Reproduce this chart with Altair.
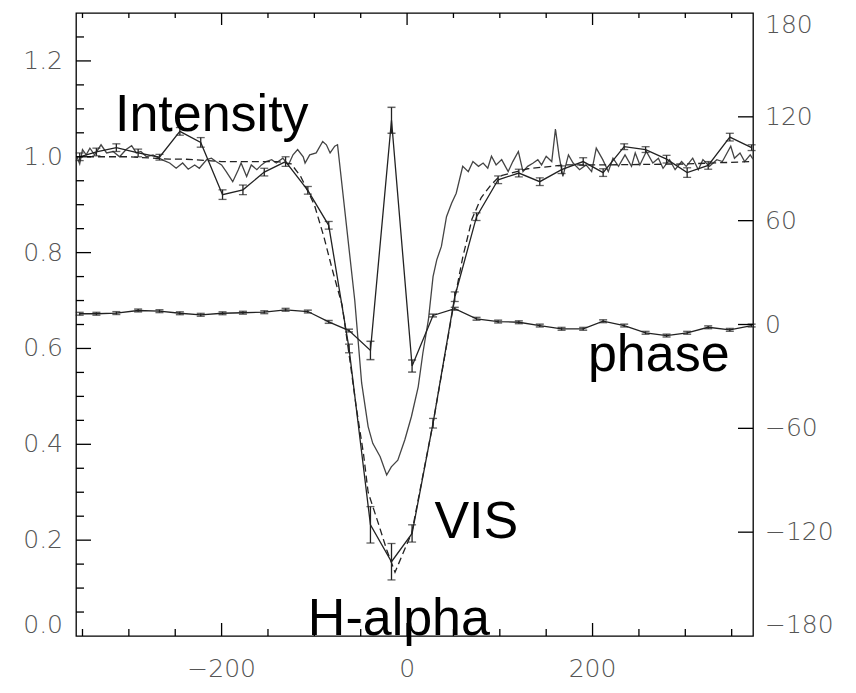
import altair as alt
import pandas as pd

# ---------------- data ----------------
spec_x = [-356, -353, -350, -346, -342, -337, -330, -324, -317, -310, -303, -297, -292, -287, -281,
          -274, -267, -262, -256, -249, -242, -236, -229, -224, -216, -211, -206, -200, -195, -188,
          -182, -179, -173, -168, -162, -157, -152, -146, -141, -134, -128, -123, -118, -112, -110,
          -105, -98, -91, -87, -83, -78, -75, -56.4, -49, -42, -37, -29, -22, -17, -10, -2.5, 4.7,
          12, 17, 23, 28, 32, 37, 42.5, 48, 53, 60, 66, 71, 77, 82, 87, 91, 96, 102, 109, 114, 120,
          125, 130, 136, 141, 145, 150, 156, 160, 164, 168, 174, 179, 186, 193, 199, 204, 211, 217,
          222, 228, 235, 242, 246, 251, 258, 265, 271, 276, 283, 289, 296, 301, 308, 314, 319, 326,
          334, 340, 345, 349, 353, 359, 364, 370, 373]
spec_y = [1.000, 0.985, 1.015, 1.004, 1.018, 1.004, 1.025, 1.008, 1.011, 1.000, 1.015, 1.023, 1.008,
          1.011, 1.000, 1.004, 0.997, 0.992, 0.987, 0.976, 0.987, 0.974, 0.983, 0.976, 0.994, 0.997,
          0.990, 0.983, 0.969, 0.948, 0.973, 0.987, 0.959, 0.983, 0.973, 0.983, 0.990, 0.994, 0.987,
          0.997, 0.983, 1.004, 1.015, 1.000, 0.987, 1.004, 1.008, 1.032, 1.025, 1.008, 1.022, 1.025,
          0.700, 0.528, 0.437, 0.402, 0.374, 0.336, 0.353, 0.367, 0.409, 0.458, 0.520, 0.590, 0.660,
          0.750, 0.785, 0.813, 0.875, 0.903, 0.924, 0.980, 0.969, 0.990, 0.980, 0.987, 0.976, 1.001,
          0.983, 0.994, 0.969, 0.990, 1.011, 0.969, 0.980, 0.987, 0.994, 0.983, 1.001, 0.990, 1.058,
          1.001, 0.959, 1.004, 0.987, 0.973, 0.983, 0.969, 1.018, 0.994, 0.969, 0.997, 0.980, 1.004,
          0.980, 1.008, 0.983, 1.011, 0.987, 0.997, 0.976, 0.994, 0.973, 0.990, 0.980, 0.997, 0.973,
          0.994, 0.980, 0.994, 0.990, 1.008, 1.022, 0.997, 1.008, 0.990, 1.004, 0.995]

vis_x = [-353, -335, -313.5, -290, -267, -245, -222.5, -199, -177, -154, -131, -107, -84.5, -62.6,
         -39.5, -16.8, 5.4, 28, 51.4, 74.9, 98.2, 120.5, 143.1, 166.6, 189.9, 211.4, 234.1, 257.2,
         279.8, 302, 324.7, 348, 371.5]
vis_y = [1.000, 1.010, 1.019, 1.008, 0.999, 1.053, 1.030, 0.921, 0.931, 0.968, 0.990, 0.930, 0.857,
         0.600, 0.232, 0.155, 0.214, 0.444, 0.708, 0.875, 0.952, 0.966, 0.948, 0.973, 0.990, 0.967,
         1.021, 1.015, 0.995, 0.967, 0.982, 1.041, 1.019]
vis_err = [0.008, 0.008, 0.008, 0.008, 0.006, 0.008, 0.010, 0.010, 0.010, 0.008, 0.010, 0.008, 0.008,
           0.009, 0.038, 0.038, 0.018, 0.010, 0.010, 0.008, 0.008, 0.008, 0.008, 0.008, 0.008, 0.008,
           0.006, 0.006, 0.008, 0.010, 0.008, 0.008, 0.006]

dash_x = [-357, -300, -256, -240, -200, -175, -140, -125, -115, -100, -90, -80, -70, -62, -55, -47,
          -42, -31, -22, -13, -5, 5, 28, 51, 60, 70, 80, 90, 100, 130, 170, 210, 300, 373]
dash_y = [1.0, 1.0, 0.995, 0.995, 0.99, 0.99, 0.99, 0.985, 0.96, 0.90, 0.835, 0.76, 0.69, 0.58, 0.48,
          0.38, 0.30, 0.235, 0.18, 0.133, 0.17, 0.215, 0.444, 0.70, 0.79, 0.87, 0.915, 0.94, 0.96,
          0.975, 0.983, 0.983, 0.985, 0.99]

phase_x = vis_x
phase_deg = [6.2, 6.2, 6.6, 8.1, 7.7, 6.5, 5.6, 6.5, 6.8, 7.1, 8.5, 7.5, 1.5, -3.5, -15, 118, -24,
             5.2, 9.1, 3.3, 1.7, 1.3, -0.6, -2.5, -2.5, 1.9, -0.6, -4.8, -6.4, -4.8, -1.6, -3.1, -0.6]
phase_err = [0.8] * 14 + [5.3, 7.5, 3.5] + [0.8] * 16

label_text = ["Intensity", "phase", "VIS", "H-alpha"]
label_x = [-315, 195, 29.5, -107]
label_y = [1.053, 0.552, 0.204, 0.002]

x_major = [-200, 0, 200]
x_minor = [-350, -300, -250, -150, -100, -50, 50, 100, 150, 250, 300, 350]
yl_major = [0.2, 0.4, 0.6, 0.8, 1.0, 1.2]
yl_minor = [0.05, 0.1, 0.15, 0.25, 0.3, 0.35, 0.45, 0.5, 0.55, 0.65, 0.7, 0.75, 0.85, 0.9, 0.95,
            1.05, 1.1, 1.15, 1.25]
yl_labels = [0.0, 0.2, 0.4, 0.6, 0.8, 1.0, 1.2]
yr_major = [-120, -60, 0, 60, 120]
yr_labels = [-180, -120, -60, 0, 60, 120, 180]

# ---------------- scales / layout ----------------
W, H = 677, 623
X0, X1 = -357, 373
YL0, YL1 = 0.0, 1.3
YR0, YR1 = -180, 180
LINE = "#222222"
xs = alt.Scale(domain=[X0, X1], nice=False, zero=False)
yl = alt.Scale(domain=[YL0, YL1], nice=False, zero=False)
yr = alt.Scale(domain=[YR0, YR1], nice=False, zero=False)

# ---------------- tables ----------------
spec = pd.DataFrame({"x": spec_x, "y": spec_y})
vis = pd.DataFrame({"x": vis_x, "y": vis_y, "e": vis_err})
vis["lo"] = vis["y"] - vis["e"]
vis["hi"] = vis["y"] + vis["e"]
dash = pd.DataFrame({"x": dash_x, "y": dash_y})
ph = pd.DataFrame({"x": phase_x, "y": phase_deg, "e": phase_err})
ph["lo"] = ph["y"] - ph["e"]
ph["hi"] = ph["y"] + ph["e"]
labs = pd.DataFrame({"t": label_text, "x": label_x, "y": label_y})


def XQ(field="x"):
    return alt.X(f"{field}:Q", scale=xs, axis=None)


def YL(field="y"):
    return alt.Y(f"{field}:Q", scale=yl, axis=None)


def YR(field="y"):
    return alt.Y(f"{field}:Q", scale=yr, axis=None)


spec_line = alt.Chart(spec).mark_line(color="#444444", strokeWidth=1.3).encode(x=XQ(), y=YL())
dash_line = alt.Chart(dash).mark_line(color=LINE, strokeWidth=1.3, strokeDash=[7, 4]).encode(
    x=XQ(), y=YL())
vis_line = alt.Chart(vis).mark_line(color=LINE, strokeWidth=1.3).encode(x=XQ(), y=YL())
vis_bar = alt.Chart(vis).mark_rule(color=LINE, strokeWidth=1.3).encode(x=XQ(), y=YL("lo"), y2="hi:Q")
vis_cap_lo = alt.Chart(vis).mark_tick(color=LINE, orient="horizontal", size=8, thickness=1.3).encode(
    x=XQ(), y=YL("lo"))
vis_cap_hi = alt.Chart(vis).mark_tick(color=LINE, orient="horizontal", size=8, thickness=1.3).encode(
    x=XQ(), y=YL("hi"))

texts = alt.Chart(labs).mark_text(font="Liberation Sans", fontSize=52, color="black",
                                  align="left", baseline="alphabetic").encode(
    x=XQ(), y=YL(), text="t:N")


def vrules(vals, y0, y1):
    return alt.Chart(pd.DataFrame({"v": vals})).mark_rule(color="black", strokeWidth=1.3).encode(
        x=XQ("v"), y=alt.value(y0), y2=alt.value(y1))


def hrules(vals, Y, x0, x1):
    return alt.Chart(pd.DataFrame({"v": vals})).mark_rule(color="black", strokeWidth=1.3).encode(
        y=Y("v"), x=alt.value(x0), x2=alt.value(x1))


lab_style = dict(font="DejaVu Sans", fontSize=25, color="#555555", fontWeight=300)


def tick_labels(vals, fmt, xval, yfunc, yval=None, **mk):
    df = pd.DataFrame({"v": vals})
    df["px"] = df["v"] if xval is None else xval
    df["py"] = df["v"] if yval is None else yval
    return alt.Chart(df).mark_text(**lab_style, **mk).encode(
        x=XQ("px"), y=yfunc("py"), text=alt.Text("v:Q", format=fmt))


left = alt.layer(
    spec_line, dash_line, vis_line, vis_bar, vis_cap_lo, vis_cap_hi, texts,
    vrules(x_major, H, H - 13), vrules(x_minor, H, H - 7),
    vrules(x_major, 0, 12), vrules(x_minor, 0, 5),
    hrules(yl_major, YL, 0, 15), hrules(yl_minor, YL, 0, 8),
    tick_labels(x_major, "d", None, YL, yval=YL0, align="center", baseline="middle", dy=33),
    tick_labels(yl_labels[1:], ".1f", X0, YL, align="right", baseline="middle", dx=-13),
    tick_labels(yl_labels[:1], ".1f", X0, YL, align="right", baseline="bottom", dx=-13, dy=2),
)

ph_line = alt.Chart(ph).mark_line(color=LINE, strokeWidth=1.3).encode(x=XQ(), y=YR())
ph_bar = alt.Chart(ph).mark_rule(color=LINE, strokeWidth=1.3).encode(x=XQ(), y=YR("lo"), y2="hi:Q")
ph_cap_lo = alt.Chart(ph).mark_tick(color=LINE, orient="horizontal", size=8, thickness=1.5).encode(
    x=XQ(), y=YR("lo"))
ph_cap_hi = alt.Chart(ph).mark_tick(color=LINE, orient="horizontal", size=8, thickness=1.5).encode(
    x=XQ(), y=YR("hi"))

right = alt.layer(
    ph_line, ph_bar, ph_cap_lo, ph_cap_hi, hrules(yr_major, YR, W, W - 15),
    tick_labels(yr_labels[1:-1], "d", X1, YR, align="left", baseline="middle", dx=12),
    tick_labels(yr_labels[:1], "d", X1, YR, align="left", baseline="bottom", dx=12, dy=2),
    tick_labels(yr_labels[-1:], "d", X1, YR, align="left", baseline="top", dx=12),
)

chart = alt.layer(left, right).resolve_scale(y="independent").properties(
    width=W, height=H,
    padding={"left": 76, "top": 13, "right": 103, "bottom": 57},
    autosize=alt.AutoSizeParams(type="none"),
    background="white",
).configure_view(stroke="black", strokeWidth=1.3)

chart.save("out.html", embed_options={"renderer": "svg", "actions": False})
